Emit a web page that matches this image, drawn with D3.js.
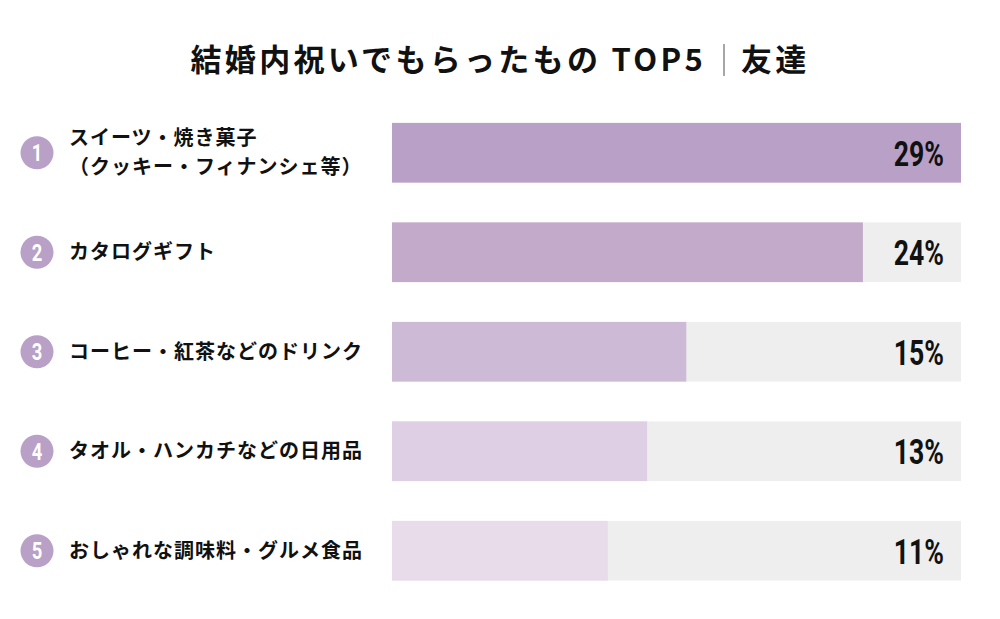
<!DOCTYPE html>
<html><head><meta charset="utf-8">
<script src="https://cdn.jsdelivr.net/npm/d3@7"></script>
<style>
html,body{margin:0;padding:0;background:#fff;}
svg{display:block;}
</style></head>
<body>
<svg id="chart" width="1000" height="619"></svg>
<script>
const ranks = ["1","2","3","4","5"];
const labels = [
  ["スイーツ・焼き菓子","（クッキー・フィナンシェ等）"],
  ["カタログギフト"],
  ["コーヒー・紅茶などのドリンク"],
  ["タオル・ハンカチなどの日用品"],
  ["おしゃれな調味料・グルメ食品"]
];
const values = [29, 24, 15, 13, 11];
const barColors = ["#b9a0c6","#c3aacb","#cdbad7","#dfcfe4","#e8dcea"];
const titleMain = "結婚内祝いでもらったもの TOP5";
const titleSub = "友達";

const svg = d3.select("#chart");
const jp = "'Noto Sans CJK JP','Noto Sans',sans-serif";
const num = "Roboto,'Noto Sans',sans-serif";

const x = d3.scaleLinear().domain([0, d3.max(values)]).range([392, 961]);
const y = d3.scaleBand().domain(ranks).range([103, 600.5]).paddingInner(0.4).paddingOuter(0.2);

// title
svg.append("text").attr("x", 706).attr("y", 71).attr("text-anchor","end")
  .attr("font-family", jp).attr("font-weight", 700).attr("font-size", 31)
  .attr("letter-spacing", 3.3).attr("fill","#111").text(titleMain);
svg.append("line").attr("x1",724).attr("x2",724).attr("y1",44).attr("y2",76)
  .attr("stroke","#888").attr("stroke-width",1.5);
svg.append("text").attr("x", 741).attr("y", 71)
  .attr("font-family", jp).attr("font-weight", 700).attr("font-size", 31)
  .attr("letter-spacing", 3.3).attr("fill","#111").text(titleSub);

const rows = svg.selectAll("g.row").data(ranks).join("g").attr("class","row");

// track
rows.append("rect").attr("x", x(0)).attr("width", x.range()[1]-x(0))
  .attr("y", d => y(d)).attr("height", y.bandwidth()).attr("fill","#eeeeee");
// bar
rows.append("rect").attr("x", x(0)).attr("width", (d,i) => x(values[i]) - x(0))
  .attr("y", d => y(d)).attr("height", y.bandwidth()).attr("fill",(d,i)=>barColors[i]);
// value (condensed)
rows.append("text")
  .attr("transform", d => `translate(944,${y(d)+y.bandwidth()/2}) scale(0.74,1)`)
  .attr("dy","0.36em").attr("text-anchor","end")
  .attr("font-family", num).attr("font-weight",700).attr("font-size",36)
  .attr("fill","#111").text((d,i)=>values[i]+"%");
// rank circle
rows.append("circle").attr("cx",37).attr("cy", d => y(d)+y.bandwidth()/2)
  .attr("r",16.5).attr("fill","#b9a0c6");
rows.append("text")
  .attr("transform", d => `translate(37,${y(d)+y.bandwidth()/2}) scale(0.8,1)`)
  .attr("dy","0.36em").attr("text-anchor","middle")
  .attr("font-family", num).attr("font-weight",700).attr("font-size",23)
  .attr("fill","#fff").text(d=>d);
// labels
rows.each(function(d,i){
  const g = d3.select(this);
  const lines = labels[i];
  const cy = y(d)+y.bandwidth()/2;
  const lh = 29;
  lines.forEach((t,j)=>{
    g.append("text").attr("x",69).attr("y", cy + (j - (lines.length-1)/2)*lh)
      .attr("dy","0.36em")
      .attr("font-family", jp).attr("font-weight",700).attr("font-size",20)
      .attr("letter-spacing",1).attr("fill","#111").text(t);
  });
});
</script>
</body></html>
